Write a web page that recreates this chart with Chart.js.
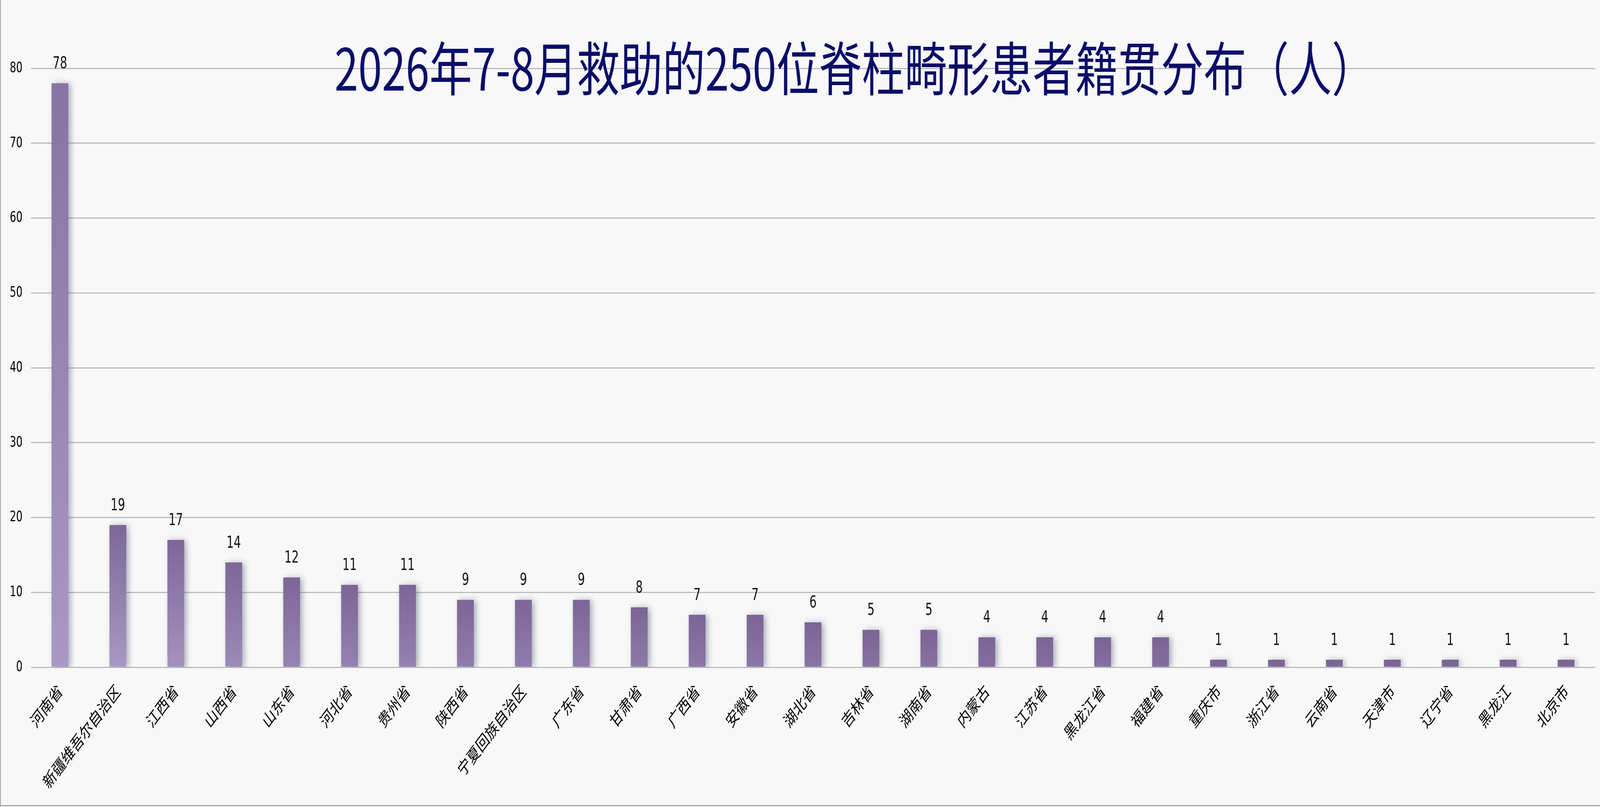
<!DOCTYPE html>
<html>
<head>
<meta charset="utf-8">
<script src="https://cdn.jsdelivr.net/npm/chart.js@4.4.1/dist/chart.umd.min.js"></script>
<style>
  html, body { margin: 0; padding: 0; background: #f8f8f8; overflow: hidden; }
  #myChart { display: block; width: 100vw; height: 100vh; }
</style>
</head>
<body>
<canvas id="myChart" width="5477" height="2067" style="width:100vw;height:100vh"></canvas>
<script>
/* global Chart */
var provinces = ['河南省', '新疆维吾尔自治区', '江西省', '山西省', '山东省', '河北省', '贵州省', '陕西省',
  '宁夏回族自治区', '广东省', '甘肃省', '广西省', '安徽省', '湖北省', '吉林省', '湖南省', '内蒙古',
  '江苏省', '黑龙江省', '福建省', '重庆市', '浙江省', '云南省', '天津市', '辽宁省', '黑龙江', '北京市'];
var patients = [78, 19, 17, 14, 12, 11, 11, 9, 9, 9, 8, 7, 7, 6, 5, 5, 4, 4, 4, 4, 1, 1, 1, 1, 1, 1, 1];
var yTicks = [0, 10, 20, 30, 40, 50, 60, 70, 80];
var chartTitle = '2026年7-8月救助的250位脊柱畸形患者籍贯分布（人）';

var numFont = '"DejaVu Sans Condensed", "DejaVu Sans", sans-serif';
var cjkFont = '"Noto Sans CJK SC", "Noto Sans", sans-serif';

var dark = [122, 100, 148];
var light = [169, 152, 196];
function mix(t) {
  var c = dark.map(function(d, i) { return Math.round(d + (light[i] - d) * t); });
  return 'rgb(' + c.join(',') + ')';
}

// vertical gradient per bar, taller bars fade further
function barFill(context) {
  var chart = context.chart;
  var y = chart.scales.y;
  if (!y || context.raw === undefined) return mix(0.2);
  var top = y.getPixelForValue(context.raw);
  var bottom = y.getPixelForValue(0);
  var h = bottom - top;
  if (!(h > 0)) return mix(0);
  var g = chart.ctx.createLinearGradient(0, top, 0, bottom);
  g.addColorStop(0, mix(Math.min(0.3, h / 5000)));
  g.addColorStop(1, mix(Math.min(1, h / 360)));
  return g;
}

var backdrop = {
  id: 'backdrop',
  beforeDraw: function(chart) {
    var ctx = chart.ctx;
    ctx.save();
    ctx.fillStyle = '#f8f8f8';
    ctx.fillRect(0, 0, chart.width, chart.height);
    ctx.fillStyle = '#a8a8a8';
    ctx.fillRect(0, 0, 3, chart.height);
    ctx.fillRect(0, chart.height - 5, chart.width, 3);
    ctx.restore();
  }
};

var barShadow = {
  id: 'barShadow',
  beforeDatasetsDraw: function(chart) {
    var ctx = chart.ctx;
    ctx.save();
    ctx.shadowColor = 'rgba(70, 80, 110, 0.45)';
    ctx.shadowBlur = 18;
    ctx.shadowOffsetX = 8;
    ctx.shadowOffsetY = 2;
  },
  afterDatasetsDraw: function(chart) {
    var ctx = chart.ctx;
    ctx.restore();
    ctx.save();
    ctx.font = '43px ' + numFont;
    ctx.fillStyle = '#111111';
    ctx.textAlign = 'center';
    ctx.textBaseline = 'alphabetic';
    chart.getDatasetMeta(0).data.forEach(function(bar, i) {
      ctx.fillText(String(patients[i]), bar.x, bar.y - 38);
    });
    ctx.restore();
  }
};

var titleText = {
  id: 'titleText',
  afterDraw: function(chart) {
    var ctx = chart.ctx;
    ctx.save();
    ctx.font = '149px ' + cjkFont;
    ctx.fillStyle = '#0a0e68';
    ctx.textAlign = 'center';
    ctx.textBaseline = 'middle';
    ctx.fillText(chartTitle, 2925, 175, 3560);
    ctx.restore();
  }
};

var canvas = document.getElementById('myChart');
var myChart = new Chart(canvas, {
  type: 'bar',
  data: {
    labels: provinces,
    datasets: [{
      label: '人数',
      data: patients,
      backgroundColor: barFill,
      barPercentage: 0.29,
      categoryPercentage: 1.0
    }]
  },
  plugins: [backdrop, barShadow, titleText],
  options: {
    responsive: false,
    devicePixelRatio: 1,
    animation: false,
    layout: { padding: { top: 175, right: 17, left: 0, bottom: 0 } },
    plugins: {
      legend: { display: false },
      title: { display: false },
      tooltip: { enabled: false }
    },
    scales: {
      x: {
        grid: { display: false, drawTicks: false },
        border: { display: false },
        afterFit: function(scale) { scale.height = 358; },
        ticks: {
          autoSkip: false,
          maxRotation: 45,
          minRotation: 45,
          padding: 34,
          color: '#000000',
          font: { family: cjkFont, size: 44 }
        }
      },
      y: {
        min: 0,
        max: 80,
        afterFit: function(scale) { scale.width = 106; },
        afterBuildTicks: function(scale) {
          scale.ticks = yTicks.map(function(v) { return { value: v }; });
        },
        grid: { color: '#bcbcbc', lineWidth: 3, drawTicks: false },
        border: { display: false },
        ticks: {
          padding: 29,
          color: '#000000',
          font: { family: numFont, size: 38 }
        }
      }
    }
  }
});
</script>
</body>
</html>
